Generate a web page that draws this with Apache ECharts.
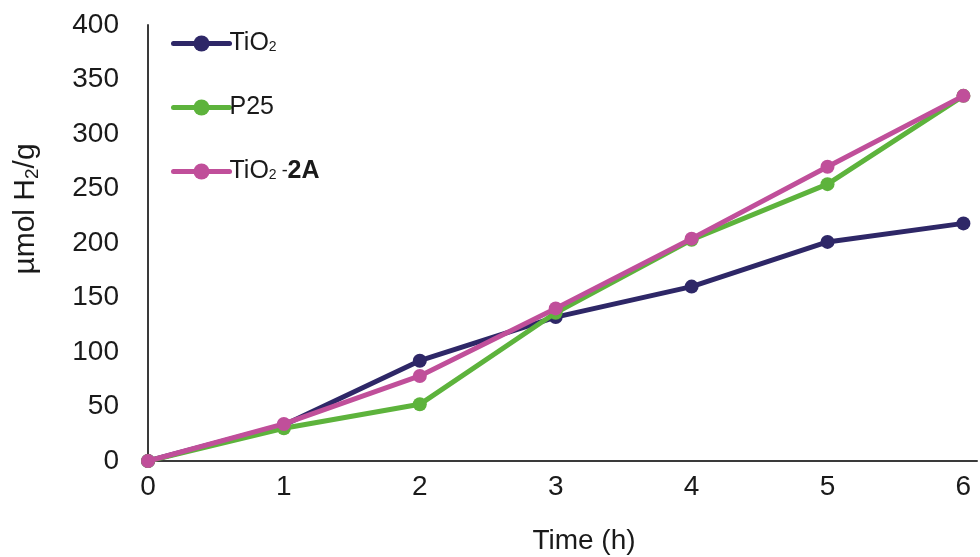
<!DOCTYPE html>
<html>
<head>
<meta charset="utf-8">
<script src="https://cdn.jsdelivr.net/npm/echarts@6/dist/echarts.min.js"></script>
<style>
  html, body { margin: 0; padding: 0; background: #fff; }
  #chart { width: 980px; height: 557px; }
</style>
</head>
<body>
<div id="chart"></div>
<script>
// Hydrogen evolution over time (µmol H2 per gram of catalyst)
const hours = [0, 1, 2, 3, 4, 5, 6];
const tio2 = [0, 33, 92, 132, 160, 201, 218];
const p25 = [0, 30, 52, 136, 203, 254, 335];
const tio2_2A = [0, 34, 78, 140, 204, 270, 335];
const yTicks = [0, 50, 100, 150, 200, 250, 300, 350, 400];

const seriesNames = ['TiO2', 'P25', 'TiO2-2A'];
const seriesColors = ['#2e2767', '#5db33c', '#c04f9a'];
const seriesData = [tio2, p25, tio2_2A];
const legendTops = [31, 95, 159];

const font = '"Liberation Sans", Arial, sans-serif';
const ink = '#1a1a1a';

const chart = echarts.init(document.getElementById('chart'), null, { renderer: 'canvas' });

const legendRich = {
  n: { fontFamily: font, fontSize: 25, color: ink },
  s: { fontFamily: font, fontSize: 14, color: ink, padding: [7, 0, 0, 0] },
  h: { fontFamily: font, fontSize: 18, color: ink },
  b: { fontFamily: font, fontSize: 25, fontWeight: 'bold', color: ink }
};

function legendLabel(name) {
  if (name === 'TiO2') return '{n|TiO}{s|2}';
  if (name === 'TiO2-2A') return '{n|TiO}{s|2}{h| -}{b|2A}';
  return '{n|' + name + '}';
}

chart.setOption({
  animation: false,
  backgroundColor: '#ffffff',
  textStyle: { fontFamily: font },
  grid: { left: 148, right: 0, top: 25, bottom: 96, containLabel: false },
  legend: seriesNames.map(function (name, i) {
    return {
      orient: 'vertical',
      left: 171,
      top: legendTops[i],
      itemWidth: 56,
      itemHeight: 20,
      itemGap: 0,
      padding: 0,
      data: [name],
      lineStyle: { width: 5, cap: 'round' },
      textStyle: { fontFamily: font, fontSize: 25, color: ink, padding: [0, 0, 0, -5], rich: legendRich },
      formatter: legendLabel
    };
  }),
  graphic: [
    {
      type: 'text',
      x: 26,
      y: 209,
      rotation: Math.PI / 2,
      style: {
        text: 'µmol H{sub|2}/g',
        fontFamily: font,
        fontSize: 30,
        fill: ink,
        align: 'center',
        verticalAlign: 'middle',
        rich: {
          sub: { fontFamily: font, fontSize: 19, fill: ink, padding: [13, 0, 0, 0] }
        }
      }
    },
    {
      type: 'text',
      x: 584,
      y: 541,
      style: {
        text: 'Time (h)',
        fontFamily: font,
        fontSize: 28,
        fill: ink,
        align: 'center',
        verticalAlign: 'middle'
      }
    }
  ],
  xAxis: {
    type: 'value',
    min: 0,
    max: 6.1,
    interval: 1,
    axisLine: { show: true, lineStyle: { color: '#3a3a3a', width: 2 } },
    axisTick: { show: false },
    splitLine: { show: false },
    axisLabel: {
      fontFamily: font,
      fontSize: 28,
      color: ink,
      margin: 12,
      formatter: function (v) {
        return hours.indexOf(v) >= 0 ? String(v) : '';
      }
    }
  },
  yAxis: {
    type: 'value',
    min: yTicks[0],
    max: yTicks[yTicks.length - 1],
    interval: 50,
    axisLine: { show: true, lineStyle: { color: '#3a3a3a', width: 2 } },
    axisTick: { show: false },
    splitLine: { show: false },
    axisLabel: { fontFamily: font, fontSize: 28, color: ink, margin: 29 }
  },
  series: seriesNames.map(function (name, i) {
    return {
      name: name,
      type: 'line',
      data: hours.map(function (h, j) { return [h, seriesData[i][j]]; }),
      symbol: 'circle',
      symbolSize: 14,
      showSymbol: true,
      lineStyle: { color: seriesColors[i], width: 5, cap: 'round' },
      itemStyle: { color: seriesColors[i] },
      clip: false,
      z: 2 + i
    };
  })
});
</script>
</body>
</html>
